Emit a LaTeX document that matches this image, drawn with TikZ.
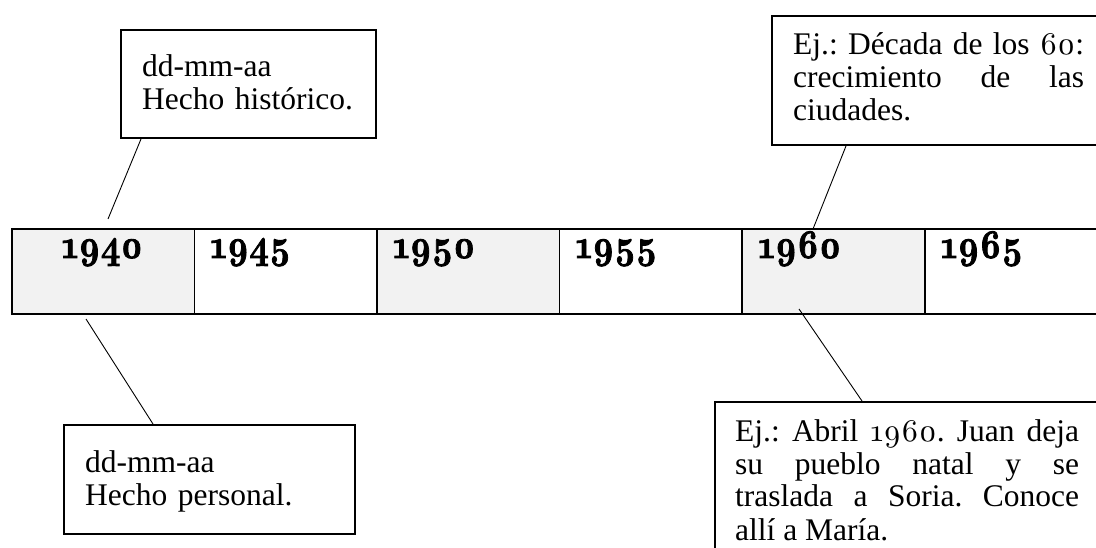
\documentclass[tikz,border=0pt]{standalone}
\usepackage{graphicx}
\usepackage{fontspec}
\setmainfont{Liberation Serif}
\newfontfamily\yearfont{lmroman10-regular}[Extension=.otf, BoldFont=lmroman10-bold, BoldFeatures={FakeBold=2.2}, Numbers=OldStyle]
\definecolor{cellgray}{HTML}{F2F2F2}
\newcommand{\osn}[1]{{\yearfont #1}}
\newcommand{\yeartxt}[1]{\scalebox{1}[1.2]{#1}}
\frenchspacing
\begin{document}
\begin{tikzpicture}[x=1pt,y=-1pt,
  cell/.style={draw=black, line width=1.6pt, minimum width=182.6pt, minimum height=85pt, inner sep=0pt, anchor=north west},
  shaded/.style={cell, fill=cellgray},
  plain/.style={cell, fill=white},
  note/.style={draw=black, line width=2pt, inner sep=0pt, anchor=north west, fill=white},
  notetext/.style={inner sep=0pt, anchor=base west, font=\fontsize{31.5}{33}\selectfont\frenchspacing},
  yeartext/.style={inner sep=0pt, anchor=base west, font=\fontsize{34}{34}\selectfont\yearfont\bfseries},
  link/.style={draw=black, line width=0.9pt}]
\clip (0,0) rectangle (1096,548);
\fill[white] (0,0) rectangle (1096,548);
% table cells
\node[shaded] (c1940) at (11,228) {};
\node[plain]  (c1945) at (193.6,228) {};
\node[shaded] (c1950) at (376.2,228) {};
\node[plain]  (c1955) at (558.8,228) {};
\node[shaded] (c1960) at (741.4,228) {};
\node[plain]  (c1965) at (924,228) {};
% years
\node[yeartext, anchor=base] (t1940) at (102.3,258) {\yeartxt{1940}};
\node[yeartext] (t1945) at (210,258) {\yeartxt{1945}};
\node[yeartext] (t1950) at (392.7,258) {\yeartxt{1950}};
\node[yeartext] (t1955) at (575.3,258) {\yeartxt{1955}};
\node[yeartext] (t1960) at (758,258) {\yeartxt{1960}};
\node[yeartext] (t1965) at (940.5,258) {\yeartxt{1965}};
% note boxes
\node[note, minimum width=255pt, minimum height=108pt] (hist) at (120,29) {};
\node[notetext, text width=240pt, align=left] (histtxt) at (142,77) {dd-mm-aa\\Hecho histórico.};
\node[note, minimum width=291pt, minimum height=109pt] (pers) at (63,424) {};
\node[notetext, text width=260pt, align=left] (perstxt) at (85,472) {dd-mm-aa\\Hecho personal.};
\node[note, minimum width=340pt, minimum height=129pt] (dec) at (771,15) {};
\node[notetext, text width=291pt, align=justify] (dectxt) at (793,55) {\tolerance=10000\hyphenpenalty=10000 Ej.: Década de los \osn{60}:\linebreak crecimiento de las\linebreak ciudades.};
\node[note, minimum width=400pt, minimum height=170pt] (abril) at (714,401) {};
\node[notetext, text width=344pt, align=justify] (abriltxt) at (735,441) {\tolerance=10000\hyphenpenalty=10000 Ej.: Abril \osn{1960}. Juan deja\linebreak su pueblo natal y se\linebreak traslada a Soria. Conoce\linebreak allí a María.};
% connectors
\coordinate (h1) at (108,219);
\coordinate (p1) at (86,319);
\coordinate (a1) at (799,309);
\draw[link] ([xshift=21pt]hist.south west) -- (h1);
\draw[link] (p1) -- ([xshift=90pt]pers.north west);
\draw[link] ([xshift=75pt]dec.south west) -- ([xshift=72pt]c1960.north west);
\draw[link] (a1) -- ([xshift=148pt]abril.north west);
\end{tikzpicture}
\end{document}
